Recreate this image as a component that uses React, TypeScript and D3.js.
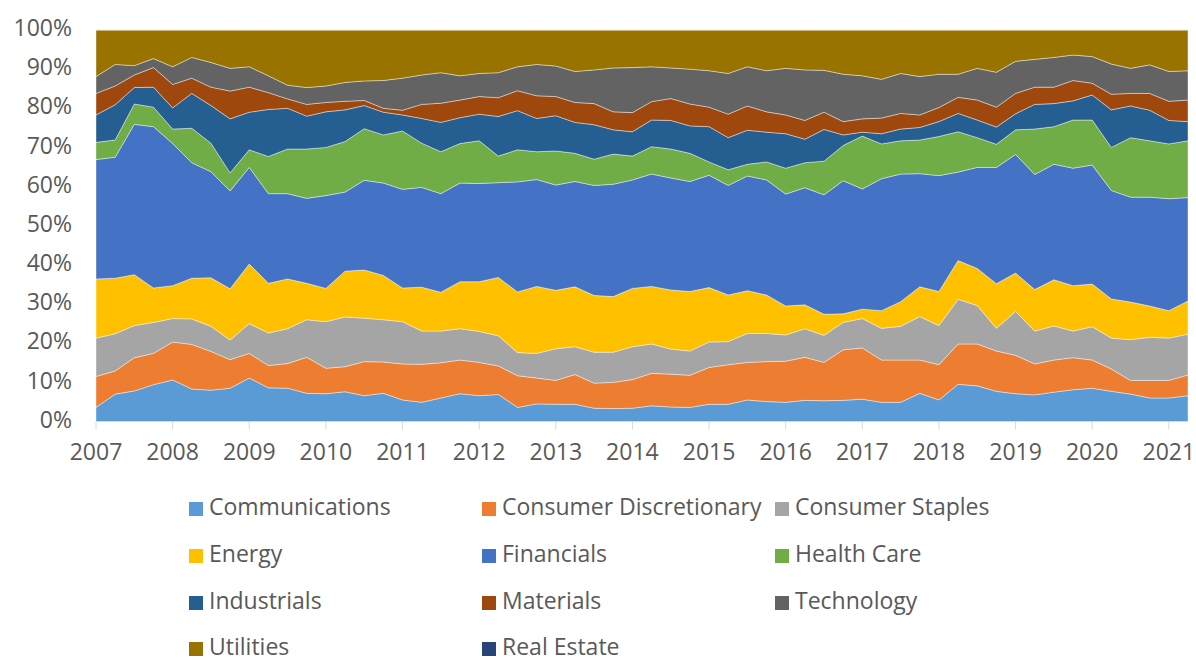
import React from 'react';
import * as d3 from 'd3';

const periods = [
  2007, 2007.25, 2007.5, 2007.75, 2008, 2008.25, 2008.5, 2008.75, 2009, 2009.25, 2009.5, 2009.75,
  2010, 2010.25, 2010.5, 2010.75, 2011, 2011.25, 2011.5, 2011.75, 2012, 2012.25, 2012.5, 2012.75,
  2013, 2013.25, 2013.5, 2013.75, 2014, 2014.25, 2014.5, 2014.75, 2015, 2015.25, 2015.5, 2015.75,
  2016, 2016.25, 2016.5, 2016.75, 2017, 2017.25, 2017.5, 2017.75, 2018, 2018.25, 2018.5, 2018.75,
  2019, 2019.25, 2019.5, 2019.75, 2020, 2020.25, 2020.5, 2020.75, 2021, 2021.25,
];

const yearTicks = [2007, 2008, 2009, 2010, 2011, 2012, 2013, 2014, 2015, 2016, 2017, 2018, 2019, 2020, 2021];
const percentTicks = [0, 10, 20, 30, 40, 50, 60, 70, 80, 90, 100];

const communications = [3.6,7.0,7.8,9.4,10.6,8.3,8.0,8.5,11.1,8.6,8.5, 7.2,7.1,7.6,6.6,7.2,5.5,4.9,6.0,7.1,6.6, 6.9,3.6,4.5,4.4,4.4,3.4,3.3,3.4,4.0,3.7, 3.6,4.4,4.4,5.5,5.1,4.9,5.4,5.3,5.4,5.7, 4.9,4.9,7.2,5.5,9.5,9.1,7.7,7.1,6.8,7.5, 8.1,8.5,7.7,7.0,6.0,6.0,6.6];
const consumerDiscretionary = [7.9,5.9,8.5,8.0,9.7,11.4,9.9,7.3,6.3,5.7,6.3, 9.2,6.5,6.4,8.7,8.0,9.2,9.7,9.0,8.6,8.5, 7.3,8.1,6.6,6.1,7.6,6.4,6.7,7.3,8.3,8.4, 8.2,9.4,10.1,9.6,10.2,10.5,11.0,9.8,12.9,13.1, 10.8,10.8,8.5,9.0,10.3,10.7,10.3,9.8,7.9,8.2, 8.2,7.2,5.7,3.5,4.5,4.5,5.3];
const consumerStaples = [9.8,9.5,8.2,7.9,6.0,6.5,6.4,5.0,7.6,8.3,8.9, 9.6,11.9,12.7,11.1,10.8,10.8,8.5,8.1,8.0,7.9, 7.7,5.9,6.3,8.1,7.1,7.9,7.7,8.4,7.5,6.4, 6.2,6.5,5.9,7.4,7.2,6.7,7.3,6.9,7.0,7.5, 8.1,8.6,11.1,10.0,11.4,9.8,5.8,11.2,8.4,8.7, 6.8,8.5,7.9,10.4,11.0,10.8,10.4];
const energy = [15.1,14.2,13.0,8.8,8.4,10.4,12.4,13.1,15.2,12.7,12.7, 9.3,8.5,11.7,12.3,11.3,8.6,11.2,9.9,12.0,12.7, 14.9,15.5,17.1,14.9,15.3,14.5,14.2,14.9,14.7,15.1, 15.2,13.9,11.9,10.9,9.8,7.4,6.1,5.4,2.2,2.4, 4.5,6.3,7.6,8.7,9.9,9.5,11.4,9.8,10.6,11.8, 11.6,10.9,10.0,9.6,8.0,7.0,8.5];
const financials = [30.5,30.9,38.4,41.2,36.3,29.5,27.1,25.0,24.7,22.9,21.8, 21.7,23.7,20.2,22.9,23.6,25.2,25.5,25.2,25.2,25.1, 24.2,28.1,27.3,26.9,26.9,28.1,28.7,27.7,28.7,28.6, 28.1,28.7,28.0,29.3,29.4,28.6,29.9,30.5,34.0,30.7, 33.7,32.6,28.9,29.6,22.6,25.8,29.7,30.3,29.4,29.5, 30.0,30.4,27.7,26.8,27.8,28.6,26.4];
const healthCare = [4.4,4.4,5.2,5.0,3.7,8.8,7.3,4.6,4.5,9.5,11.4, 12.6,12.3,12.9,13.2,12.3,14.9,11.3,10.7,10.1,10.9, 6.8,8.2,7.1,8.7,7.2,6.7,7.7,6.1,7.0,7.4, 7.2,3.4,4.0,3.0,4.6,6.6,6.4,8.6,9.0,13.5, 8.9,8.5,8.6,10.0,10.3,7.6,5.9,6.3,11.6,9.6, 12.3,11.5,11.0,15.2,14.4,14.0,14.5];
const industrials = [7.0,9.0,4.2,5.1,5.4,8.9,9.6,13.8,9.6,12.0,10.4, 8.4,9.1,8.1,5.9,5.8,4.1,6.3,7.5,6.6,6.8, 10.1,10.0,8.5,9.0,7.9,8.8,6.2,6.2,6.8,7.3, 7.0,9.0,8.2,8.7,7.6,8.8,6.0,8.1,2.7,1.0, 2.6,3.0,3.2,3.8,4.7,4.5,4.4,4.1,6.3,5.9, 4.9,6.4,9.6,8.1,7.8,6.0,4.9];
const materials = [5.5,4.8,3.2,5.0,6.0,3.9,4.7,7.1,6.4,4.3,2.4, 3.0,2.4,2.2,1.3,1.0,1.2,3.6,4.9,4.5,4.5, 4.8,5.1,5.8,4.9,5.1,5.4,4.6,4.9,4.7,5.6, 5.6,5.0,6.0,6.2,5.2,4.8,4.8,4.4,3.4,3.4, 4.0,4.0,3.2,3.6,4.1,5.1,5.1,5.2,4.4,4.2, 5.2,3.0,4.0,3.2,4.3,4.9,5.5];
const technology = [4.3,5.5,2.4,2.3,4.5,5.3,6.3,5.8,5.2,4.3,3.5, 4.3,4.2,4.8,5.0,7.1,8.2,7.5,7.8,6.2,5.9, 6.4,6.1,8.0,7.8,7.9,8.6,11.2,11.5,8.9,7.8, 8.9,9.3,10.4,10.0,10.5,11.9,12.9,10.7,12.1,11.0, 9.9,10.2,9.8,8.5,5.9,8.1,8.9,8.2,7.1,7.6, 6.5,6.8,7.7,6.4,7.3,7.6,7.5];
const utilities = [11.9,8.8,9.1,7.3,9.4,7.0,8.3,9.8,9.4,11.7,14.1, 14.7,14.3,13.4,13.0,12.9,12.3,11.5,10.9,11.7,11.1, 10.9,9.4,8.8,9.2,10.6,10.2,9.7,9.6,9.4,9.7, 10.0,10.4,11.1,9.4,10.4,9.8,10.2,10.3,11.3,11.7, 12.6,11.1,11.9,11.3,11.3,9.8,10.8,8.0,7.5,7.0, 6.4,6.8,8.7,9.8,8.9,10.6,10.4];
const realEstate = periods.map(() => 0);

const seriesNames = [
  'Communications', 'Consumer Discretionary', 'Consumer Staples', 'Energy', 'Financials',
  'Health Care', 'Industrials', 'Materials', 'Technology', 'Utilities', 'Real Estate',
];
const seriesValues = [
  communications, consumerDiscretionary, consumerStaples, energy, financials,
  healthCare, industrials, materials, technology, utilities, realEstate,
];
const seriesColors = [
  '#5B9BD5', '#ED7D31', '#A5A5A5', '#FFC000', '#4472C4',
  '#70AD47', '#255E91', '#9E480E', '#636363', '#997300', '#264478',
];

const FONT = '"Open Sans", "DejaVu Sans", sans-serif';
const TEXT = '#595959';

export default function App() {
  const W = 1196;
  const H = 660;
  const left = 96;
  const right = 1188;
  const top = 30;
  const bottom = 421.5;

  const x = d3.scaleLinear().domain([periods[0], periods[periods.length - 1]]).range([left, right]);
  const y = d3.scaleLinear().domain([0, 1]).range([bottom, top]);

  const table = periods.map((p, i) => {
    const row: any = { period: p };
    seriesNames.forEach((n, k) => { row[n] = seriesValues[k][i]; });
    return row;
  });
  const layers = d3.stack<any>().keys(seriesNames).offset(d3.stackOffsetExpand)(table);
  const area = d3.area<any>()
    .x((d) => x(d.data.period))
    .y0((d) => y(d[0]))
    .y1((d) => y(d[1]));

  const legendCols = [189, 482, 775];
  const legendRows = [509, 556, 603, 649];

  return (
    <svg width={W} height={H} style={{ position: 'absolute', left: 0, top: 0, background: '#fff' }}>
      {percentTicks.map((t) => (
        <line key={'g' + t} x1={left} x2={right} y1={y(t / 100)} y2={y(t / 100)} stroke="#D9D9D9" strokeWidth={1} />
      ))}
      {layers.map((layer, k) => (
        <path key={layer.key} d={area(layer) || ''} fill={seriesColors[k]} stroke="#ffffff" strokeOpacity={0.55} strokeWidth={0.75} />
      ))}
      <line x1={left} x2={right} y1={bottom} y2={bottom} stroke="#D9D9D9" strokeWidth={1} />
      {yearTicks.map((t) => (
        <g key={'x' + t}>
          <line x1={x(t)} x2={x(t)} y1={bottom} y2={bottom + 8} stroke="#D9D9D9" strokeWidth={1} />
          <text x={x(t)} y={bottom + 32} textAnchor="middle" dominantBaseline="middle" fontFamily={FONT} fontSize={23} fill={TEXT}>{t}</text>
        </g>
      ))}
      {percentTicks.map((t) => (
        <text key={'y' + t} x={72} y={y(t / 100)} textAnchor="end" dominantBaseline="middle" fontFamily={FONT} fontSize={23} fill={TEXT}>{t}%</text>
      ))}
      {seriesNames.map((n, k) => {
        const cx = legendCols[k % 3];
        const cy = legendRows[Math.floor(k / 3)];
        return (
          <g key={'l' + n}>
            <rect x={cx} y={cy - 7} width={14} height={14} fill={seriesColors[k]} />
            <text x={cx + 20} y={cy} dominantBaseline="middle" fontFamily={FONT} fontSize={23} fill={TEXT}>{n}</text>
          </g>
        );
      })}
    </svg>
  );
}
